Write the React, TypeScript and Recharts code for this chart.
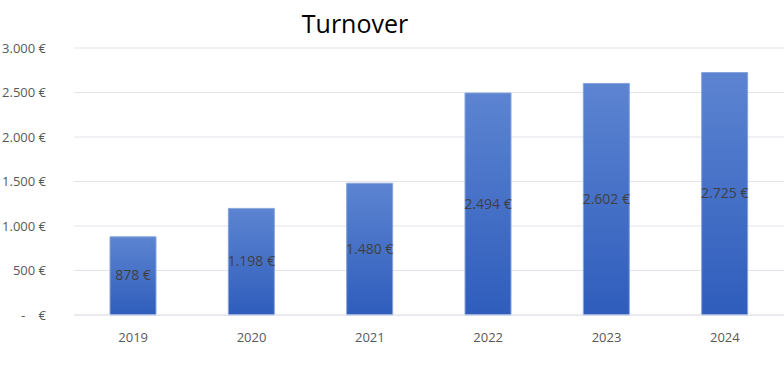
import { BarChart, Bar, XAxis, YAxis, CartesianGrid, LabelList } from "recharts";

const years = ["2019", "2020", "2021", "2022", "2023", "2024"];
const turnover = [878, 1198, 1480, 2494, 2602, 2725];
const yTicks = [0, 500, 1000, 1500, 2000, 2500, 3000];

const data = years.map((year, i) => ({ year, value: turnover[i] }));

const FONT = "'Open Sans', 'Noto Sans', sans-serif";

const fmtEuro = (v: number) =>
  v === 0 ? "-\u00a0\u00a0\u00a0\u00a0€" : `${v.toLocaleString("de-DE")}\u00a0€`;

function YTick({ x, y, payload }: any) {
  return (
    <text
      x={x - 20}
      y={y}
      dy={4.5}
      textAnchor="end"
      fontSize={13}
      fontFamily={FONT}
      fill="#595959"
    >
      {fmtEuro(payload.value)}
    </text>
  );
}

function XTick({ x, y, payload }: any) {
  return (
    <text
      x={x}
      y={y}
      dy={19}
      textAnchor="middle"
      fontSize={13}
      fontFamily={FONT}
      fill="#595959"
    >
      {payload.value}
    </text>
  );
}

function CenterLabel({ x, y, width, height, value }: any) {
  return (
    <text
      x={Number(x) + Number(width) / 2}
      y={Number(y) + Number(height) / 2}
      dy={4.5}
      textAnchor="middle"
      fontSize={14}
      fontFamily={FONT}
      fill="#404040"
    >
      {fmtEuro(Number(value))}
    </text>
  );
}

export default function App() {
  return (
    <div
      style={{
        position: "absolute",
        left: 0,
        top: 0,
        width: 784,
        height: 372,
        background: "#fff",
      }}
    >
      <div
        style={{
          position: "absolute",
          left: 0,
          width: 710,
          top: 6,
          textAlign: "center",
          fontFamily: FONT,
          fontSize: 25,
          color: "#000",
        }}
      >
        Turnover
      </div>
      <BarChart
        width={784}
        height={372}
        data={data}
        margin={{ top: 48, right: 0, bottom: 0, left: 0 }}
      >
        <defs>
          <linearGradient id="barFill" x1="0" y1="0" x2="0" y2="1">
            <stop offset="0%" stopColor="#5c84d1" />
            <stop offset="100%" stopColor="#2f5dbc" />
          </linearGradient>
        </defs>
        <CartesianGrid vertical={false} stroke="#e1e4ea" />
        <XAxis
          dataKey="year"
          height={57}
          tickLine={false}
          axisLine={{ stroke: "#e1e4ea" }}
          tick={<XTick />}
        />
        <YAxis
          width={74}
          domain={[0, 3000]}
          ticks={yTicks}
          tickLine={false}
          axisLine={false}
          tick={<YTick />}
        />
        <Bar
          dataKey="value"
          barSize={46}
          fill="url(#barFill)"
          stroke="#86a3dc"
          strokeWidth={1}
          isAnimationActive={false}
        >
          <LabelList dataKey="value" content={<CenterLabel />} />
        </Bar>
      </BarChart>
    </div>
  );
}
